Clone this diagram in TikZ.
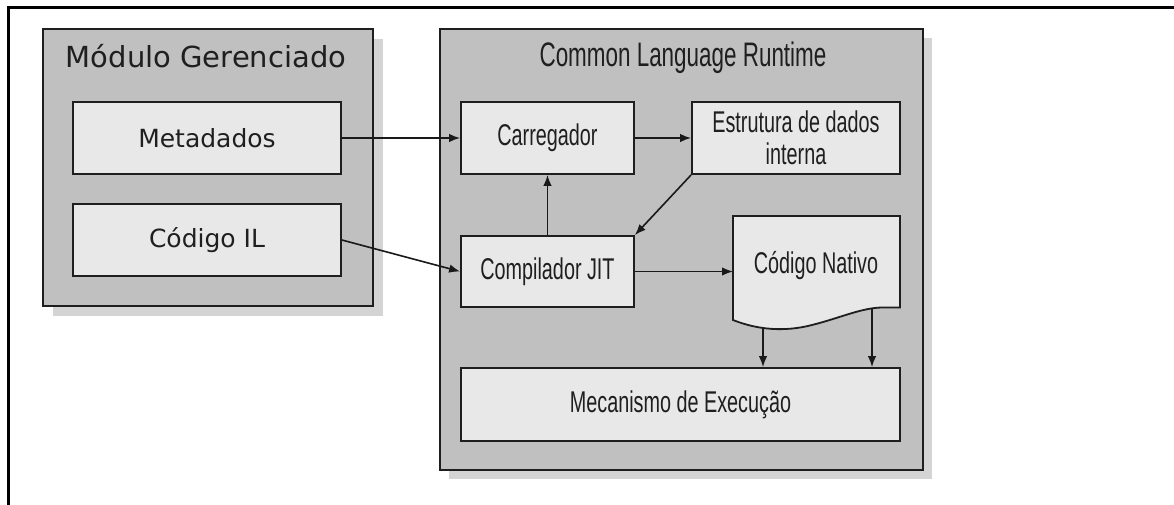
\documentclass[tikz,border=0pt]{standalone}
\usepackage{fontspec}
\setmainfont{DejaVu Sans}
\newfontfamily\modfont{DejaVu Sans}
\newfontfamily\clrfont[FakeStretch=0.66]{Liberation Sans}
\usetikzlibrary{arrows.meta}
\definecolor{panelgray}{HTML}{C0C0C0}
\definecolor{boxgray}{HTML}{E8E8E8}
\definecolor{shadowgray}{HTML}{D4D4D4}
\definecolor{edgegray}{HTML}{1E1E1E}
\tikzset{
  panel/.style={draw=edgegray, fill=panelgray, line width=1.8pt, inner sep=0pt},
  shadowbox/.style={fill=shadowgray, draw=none, inner sep=0pt},
  modbox/.style={draw=edgegray, fill=boxgray, line width=1.8pt, inner sep=0pt,
    font=\modfont\fontsize{25}{30}\selectfont, text=black!88},
  clrbox/.style={draw=edgegray, fill=boxgray, line width=1.8pt, inner sep=0pt,
    font=\clrfont\fontsize{30}{32}\selectfont, text=black!88, align=center},
  link/.style={draw=black!90, line width=1.6pt, -{Latex[length=11pt,width=8.5pt]}},
}
\begin{document}
\begin{tikzpicture}[x=1pt, y=-1pt]
  \useasboundingbox (0,0) rectangle (1174,505);
  \fill[white] (0,0) rectangle (1174,505);
  % frame lines
  \draw[line width=2.6pt, black] (1174,7.3) -- (8.7,7.3) -- (8.7,505);

  % drop shadows of the two panels
  \node[shadowbox, minimum width=330pt, minimum height=277pt] (modshadow) at (218,177.5) {};
  \node[shadowbox, minimum width=483pt, minimum height=441pt] (clrshadow) at (690.5,258.5) {};

  % managed module panel
  \node[panel, minimum width=330pt, minimum height=277pt] (mod) at (208,167.5) {};
  \node[anchor=base, font=\modfont\fontsize{29}{34}\selectfont, text=black!88] (modtitle) at (206,68) {Módulo Gerenciado};
  \node[modbox, minimum width=268pt, minimum height=72pt] (meta) at (207,138) {Metadados};
  \node[modbox, minimum width=268pt, minimum height=72pt] (il) at (207,240) {Código IL};

  % runtime panel
  \node[panel, minimum width=483pt, minimum height=441pt] (clr) at (681.5,249.5) {};
  \node[anchor=base, font=\clrfont\fontsize{34}{38}\selectfont, text=black!88] (clrtitle) at (683,67) {Common Language Runtime};
  \node[clrbox, minimum width=173pt, minimum height=72pt] (carr) at (547.5,138) {Carregador};
  \node[clrbox, minimum width=208pt, minimum height=72pt] (estr) at (796,138) {Estrutura de dados\\[-0.5pt]interna};
  \node[clrbox, minimum width=173pt, minimum height=71pt] (jit) at (547.5,271.5) {Compilador JIT};
  \node[clrbox, minimum width=439pt, minimum height=73pt] (mec) at (680.5,404.5) {Mecanismo de Execução};

  % native code document shape
  \draw[draw=edgegray, fill=boxgray, line width=1.8pt]
    (733,216) -- (900,216) -- (900,307.5) -- (883,307.5)
    .. controls (862,307.5) and (840,318) .. (812,325)
    .. controls (785,332) and (758,330) .. (733,320) -- cycle;
  \node[anchor=base, font=\clrfont\fontsize{30}{32}\selectfont, text=black!88] (nat) at (816,273) {Código Nativo};
  \coordinate (natin) at (733,271.5);
  \coordinate (natout1) at (763,328);
  \coordinate (natout2) at (872,308);

  % connectors
  \draw[link] (meta.east) -- (carr.west);
  \draw[link] (il.east) -- (jit.west);
  \draw[link] (carr.east) -- (estr.west);
  \draw[link] (jit.north) -- (carr.south);
  \draw[link] (estr.south west) -- (jit.north east);
  \draw[link] (jit.east) -- (natin);
  \draw[link] (natout1) -- (natout1 |- mec.north);
  \draw[link] (natout2) -- (natout2 |- mec.north);
\end{tikzpicture}
\end{document}
